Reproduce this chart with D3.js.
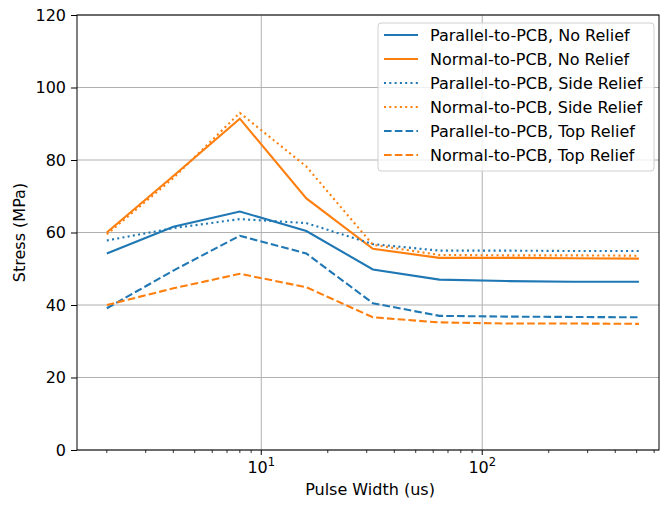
<!DOCTYPE html>
<html>
<head>
<meta charset="utf-8">
<script src="https://cdn.jsdelivr.net/npm/d3@7"></script>
<style>
  body { margin: 0; background: #fff; }
  svg { font-family: "DejaVu Sans", sans-serif; }
</style>
</head>
<body>
<svg width="664" height="505"></svg>
<script>
// pulse widths (us)
const pulseWidths = [2, 4, 8, 16, 32, 64, 128, 256, 512]

const parallelNoRelief = [54.2, 61.6, 65.8, 60.4, 49.8, 47.0, 46.6, 46.4, 46.4]
const normalNoRelief = [60.0, 75.6, 91.4, 69.4, 55.5, 53.0, 53.0, 52.9, 52.8]
const parallelSideRelief = [57.8, 61.2, 63.7, 62.6, 56.8, 55.0, 55.0, 54.9, 54.9]
const normalSideRelief = [59.5, 75.0, 93.0, 78.2, 56.6, 53.8, 53.7, 53.7, 53.6]
const parallelTopRelief = [39.1, 49.5, 59.1, 54.2, 40.5, 37.0, 36.8, 36.7, 36.6]
const normalTopRelief = [40.0, 44.6, 48.6, 44.9, 36.6, 35.2, 34.9, 34.9, 34.8]

const seriesNames = [
  'Parallel-to-PCB, No Relief',
  'Normal-to-PCB, No Relief',
  'Parallel-to-PCB, Side Relief',
  'Normal-to-PCB, Side Relief',
  'Parallel-to-PCB, Top Relief',
  'Normal-to-PCB, Top Relief'
]
const seriesValues = [parallelNoRelief, normalNoRelief, parallelSideRelief,
  normalSideRelief, parallelTopRelief, normalTopRelief]

const yTicks = [0, 20, 40, 60, 80, 100, 120]
const xMajorTicks = [10, 100]

const blue = '#1f77b4'
const orange = '#ff7f0e'
const colors = [blue, orange, blue, orange, blue, orange]
const dashes = [null, null, '2,3.3', '2,3.3', '7.6,3.2', '7.6,3.2']

const svg = d3.select('svg')
const m = { left: 77, right: 659, top: 15, bottom: 450 }
const fs = 16

const x = d3.scaleLog().domain([1.466, 631]).range([m.left, m.right])
const y = d3.scaleLinear().domain([0, 120]).range([m.bottom, m.top])

// grid
const grid = svg.append('g')
grid.selectAll('line.gy').data(yTicks).enter().append('line')
  .attr('x1', m.left).attr('x2', m.right)
  .attr('y1', d => y(d)).attr('y2', d => y(d))
  .attr('stroke', '#b0b0b0').attr('stroke-width', 1)
grid.selectAll('line.gx').data(xMajorTicks).enter().append('line')
  .attr('x1', d => x(d)).attr('x2', d => x(d))
  .attr('y1', m.top).attr('y2', m.bottom)
  .attr('stroke', '#b0b0b0').attr('stroke-width', 1)

// lines
const line = d3.line().x((d, i) => x(pulseWidths[i])).y(d => y(d))
svg.append('g').selectAll('path').data(seriesValues).enter().append('path')
  .attr('d', d => line(d))
  .attr('fill', 'none')
  .attr('stroke', (d, i) => colors[i])
  .attr('stroke-width', 2.1)
  .attr('stroke-dasharray', (d, i) => dashes[i])

// axes
const yAxis = d3.axisLeft(y).tickValues(yTicks).tickSize(6).tickPadding(5)
const gy = svg.append('g').attr('transform', `translate(${m.left},0)`).call(yAxis)
gy.select('.domain').remove()
gy.selectAll('line').attr('stroke-width', 1)
gy.selectAll('text').attr('font-size', fs).attr('fill', '#000')
  .attr('font-family', '"DejaVu Sans", sans-serif')

const minorTicks = d3.range(2, 10)
  .concat(d3.range(2, 10).map(v => v * 10))
  .concat(d3.range(2, 7).map(v => v * 100))
  .filter(v => v >= 1.466 && v <= 631)
const gx = svg.append('g').attr('transform', `translate(0,${m.bottom})`)
gx.selectAll('line.minor').data(minorTicks).enter().append('line')
  .attr('x1', d => x(d)).attr('x2', d => x(d))
  .attr('y1', 0).attr('y2', 3).attr('stroke', '#000').attr('stroke-width', 0.8)
gx.selectAll('line.major').data(xMajorTicks).enter().append('line')
  .attr('x1', d => x(d)).attr('x2', d => x(d))
  .attr('y1', 0).attr('y2', 5).attr('stroke', '#000').attr('stroke-width', 1)
const xl = gx.selectAll('text.tl').data(xMajorTicks).enter().append('text')
  .attr('x', d => x(d)).attr('y', 23).attr('text-anchor', 'middle')
  .attr('font-size', fs)
xl.append('tspan').text('10')
xl.append('tspan').attr('dy', -7).attr('font-size', 11.5)
  .text(d => Math.round(Math.log10(d)))

svg.append('rect').attr('x', m.left).attr('y', m.top)
  .attr('width', m.right - m.left).attr('height', m.bottom - m.top)
  .attr('fill', 'none').attr('stroke', '#000').attr('stroke-width', 1)

// labels
svg.append('text').attr('x', 370).attr('y', 495)
  .attr('text-anchor', 'middle').attr('font-size', fs).text('Pulse Width (us)')
svg.append('text').attr('transform', `translate(25,${(m.top + m.bottom) / 2}) rotate(-90)`)
  .attr('text-anchor', 'middle').attr('font-size', fs).text('Stress (MPa)')

// legend
const legend = svg.append('g').attr('transform', 'translate(378,23)')
legend.append('rect').attr('width', 276).attr('height', 148).attr('rx', 3)
  .attr('fill', '#fff').attr('fill-opacity', 0.8)
  .attr('stroke', '#d0d0d0').attr('stroke-width', 1)
const item = legend.selectAll('g.item').data(seriesNames).enter().append('g')
  .attr('transform', (d, i) => `translate(0,${12 + i * 24})`)
item.append('line').attr('x1', 6).attr('x2', 40).attr('y1', 0).attr('y2', 0)
  .attr('stroke', (d, i) => colors[i]).attr('stroke-width', 2.1)
  .attr('stroke-dasharray', (d, i) => dashes[i])
item.append('text').attr('x', 52).attr('y', 6).attr('font-size', fs).text(d => d)
</script>
</body>
</html>
